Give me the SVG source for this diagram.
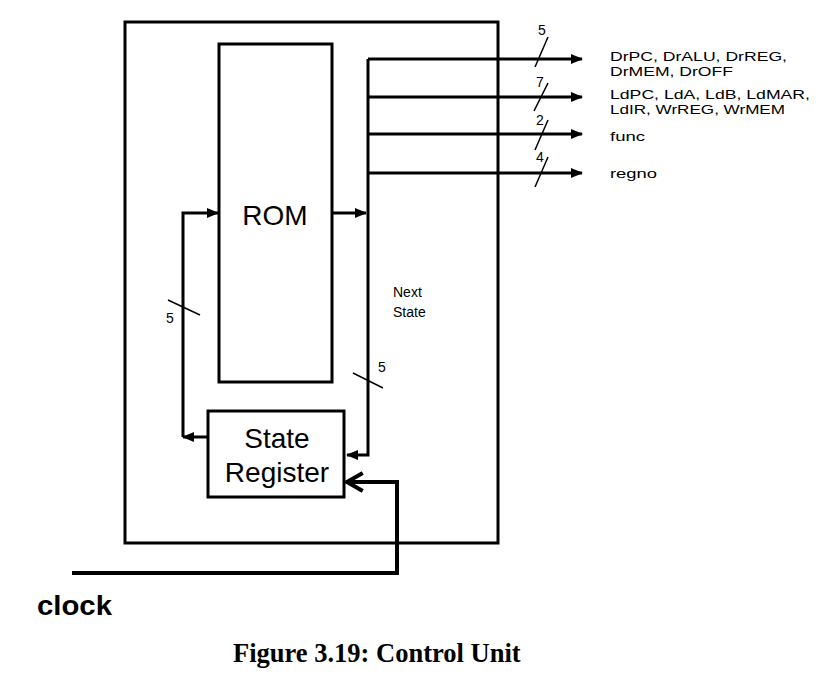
<svg xmlns="http://www.w3.org/2000/svg" width="819" height="680" viewBox="0 0 819 680">
<style>
.box{fill:none;stroke:#000;stroke-width:3}
.w{fill:none;stroke:#000;stroke-width:3}
.sl{fill:none;stroke:#000;stroke-width:1.5}
.t{font-family:"Liberation Sans",Arial,sans-serif;fill:#000}
.s{font-size:14px}
.m{font-size:13px}
.b{font-size:28px}
</style>
<defs>
<marker id="ah" markerUnits="userSpaceOnUse" markerWidth="12" markerHeight="10" refX="11" refY="5" orient="auto">
<path d="M0,0 L12,5 L0,10 Z" fill="#000"/>
</marker>
</defs>
<rect width="819" height="680" fill="#fff"/>
<g id="control-unit"><rect class="box" x="125" y="22" width="373" height="521"/></g>
<g id="rom"><rect class="box" x="219" y="44" width="113" height="338"/><text class="t b" x="275" y="225" text-anchor="middle">ROM</text></g>
<g id="state-register"><rect class="box" x="208" y="411" width="136" height="86"/><text class="t b" x="277" y="448" text-anchor="middle">State</text><text class="t b" x="277" y="482" text-anchor="middle">Register</text></g>
<g id="connectors">
<polyline class="w" points="332,213 366,213" marker-end="url(#ah)"/>
<polyline class="w" points="368,59 368,455 347,455" marker-end="url(#ah)"/>
<polyline class="w" points="368,59 582,59" marker-end="url(#ah)"/>
<polyline class="w" points="368,97 582,97" marker-end="url(#ah)"/>
<polyline class="w" points="368,134 582,134" marker-end="url(#ah)"/>
<polyline class="w" points="368,173 582,173" marker-end="url(#ah)"/>
<polyline class="w" points="208,437 183,437" marker-end="url(#ah)"/>
<polyline class="w" points="183,437 183,213 218,213" marker-end="url(#ah)"/>
<polyline fill="none" stroke="#000" stroke-width="4" points="72,573 397,573 397,482 347,482"/>
<polyline fill="none" stroke="#000" stroke-width="4" stroke-linecap="square" points="361,474 347,482 361,490"/>
<line class="sl" x1="535" y1="67" x2="548" y2="37"/>
<line class="sl" x1="534" y1="111" x2="548" y2="83"/>
<line class="sl" x1="535" y1="150" x2="548" y2="120"/>
<line class="sl" x1="535" y1="187" x2="548" y2="157"/>
<line class="sl" x1="168" y1="300" x2="200" y2="315"/>
<line class="sl" x1="353" y1="373" x2="383" y2="388"/>
</g>
<g id="labels">
<text class="t s" x="542" y="35" text-anchor="middle">5</text>
<text class="t s" x="540" y="87" text-anchor="middle">7</text>
<text class="t s" x="540" y="125" text-anchor="middle">2</text>
<text class="t s" x="540" y="162" text-anchor="middle">4</text>
<text class="t s" x="170" y="323" text-anchor="middle">5</text>
<text class="t s" x="378" y="372">5</text>
<text class="t s" x="393" y="297">Next</text>
<text class="t s" x="393" y="317">State</text>
<text class="t m" x="610" y="61" textLength="177" lengthAdjust="spacingAndGlyphs">DrPC, DrALU, DrREG,</text>
<text class="t m" x="610" y="76" textLength="123" lengthAdjust="spacingAndGlyphs">DrMEM, DrOFF</text>
<text class="t m" x="610" y="99" textLength="200" lengthAdjust="spacingAndGlyphs">LdPC, LdA, LdB, LdMAR,</text>
<text class="t m" x="610" y="114" textLength="175" lengthAdjust="spacingAndGlyphs">LdIR, WrREG, WrMEM</text>
<text class="t m" x="610" y="141" textLength="35" lengthAdjust="spacingAndGlyphs">func</text>
<text class="t m" x="610" y="178" textLength="47" lengthAdjust="spacingAndGlyphs">regno</text>
<text class="t" x="37" y="615" font-size="27" font-weight="bold" textLength="75" lengthAdjust="spacingAndGlyphs">clock</text>
<text x="233" y="662" font-family="'Liberation Serif','Times New Roman',serif" font-size="26.5" font-weight="bold">Figure 3.19: Control Unit</text>
</g>
</svg>
